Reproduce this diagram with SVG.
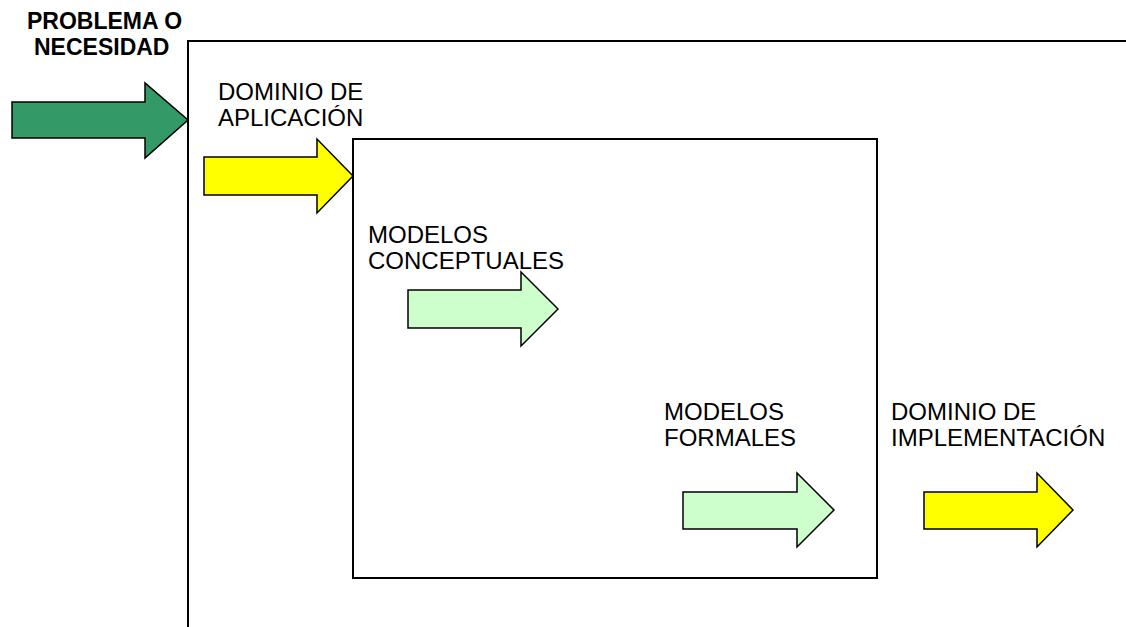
<svg xmlns="http://www.w3.org/2000/svg" width="1126" height="627" viewBox="0 0 1126 627">
<style>
.t{font-family:"Liberation Sans",Arial,sans-serif;font-size:24px;fill:#000}
.b{font-family:"Liberation Sans",Arial,sans-serif;font-size:23px;font-weight:bold;fill:#000}
.frame{fill:none;stroke:#000;stroke-width:2}
.arr{stroke:#000;stroke-width:1.5;stroke-linejoin:miter}
.dg{fill:#339966}
.ye{fill:#ffff00}
.lg{fill:#ccffcc}
</style>
<rect width="1126" height="627" fill="#fff"/>
<g id="frames">
<path class="frame" d="M188 627 V41 H1126"/>
<rect class="frame" x="353" y="139" width="524" height="439"/>
</g>
<g id="labels">
<text class="b" x="27" y="29">PROBLEMA O</text>
<text class="b" x="34" y="55">NECESIDAD</text>
<text class="t" x="218" y="100">DOMINIO DE</text>
<text class="t" x="218" y="126">APLICACIÓN</text>
<text class="t" x="368" y="243">MODELOS</text>
<text class="t" x="368" y="269">CONCEPTUALES</text>
<text class="t" x="664" y="420">MODELOS</text>
<text class="t" x="664" y="446">FORMALES</text>
<text class="t" x="891" y="420">DOMINIO DE</text>
<text class="t" x="891" y="446">IMPLEMENTACIÓN</text>
</g>
<g id="connectors">
<path id="arrow-problem" class="arr dg" d="M12 102 H145 V83 L188 120 L145 158 V138 H12 Z"/>
<path id="arrow-domain" class="arr ye" d="M204 157 H317 V139 L353 176 L317 213 V195 H204 Z"/>
<path id="arrow-conceptual" class="arr lg" d="M408 290 H521 V272 L558 309 L521 346 V328 H408 Z"/>
<path id="arrow-formal" class="arr lg" d="M683 492 H797 V473 L834 510 L797 547 V529 H683 Z"/>
<path id="arrow-impl" class="arr ye" d="M924 492 H1037 V473 L1073 510 L1037 547 V529 H924 Z"/>
</g>
</svg>
